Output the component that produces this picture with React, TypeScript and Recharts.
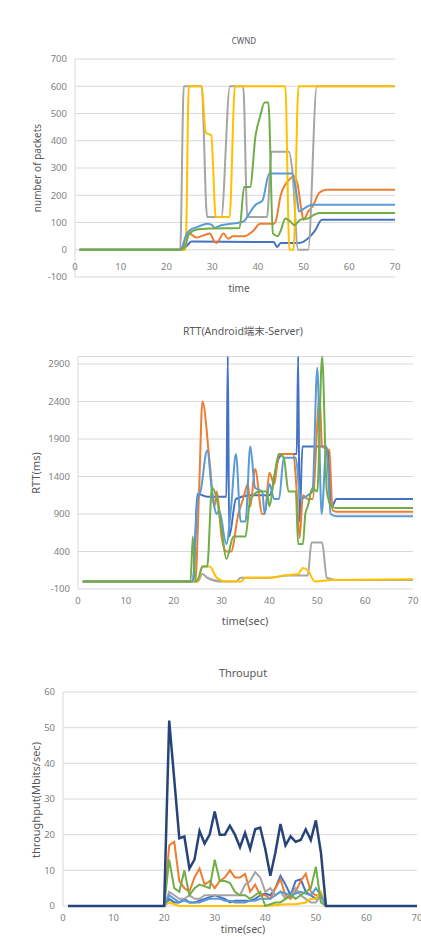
import { CartesianGrid, Line, LineChart, XAxis, YAxis } from "recharts";

type Pt = [number, number];

const xTicks = [0, 10, 20, 30, 40, 50, 60, 70];

// CWND (number of packets)
const cwndTicks = [-100, 0, 100, 200, 300, 400, 500, 600, 700];
const cwndBlue: Pt[] = [[1, 0], [23.5, 0], [24.5, 15], [25.5, 30], [43.5, 28], [44.2, 10], [45, 25], [49, 25], [50, 30], [51.5, 50], [52.5, 70], [54, 110], [70, 110]];
const cwndOrange: Pt[] = [[1, 0], [23, 0], [24.5, 40], [25, 60], [26.5, 45], [28.5, 55], [29.5, 60], [30.5, 30], [31, 25], [32.5, 60], [33.5, 40], [34.5, 50], [37, 50], [39, 70], [40.5, 95], [43.5, 95], [44, 110], [45, 200], [47, 260], [48, 270], [48.7, 240], [49.5, 150], [50, 110], [51, 140], [52, 160], [53.5, 210], [55, 220], [70, 220]];
const cwndGray: Pt[] = [[1, 0], [23, 0], [23.8, 600], [27.7, 600], [28.9, 120], [32, 120], [33.9, 600], [36.8, 600], [37.7, 120], [42, 120], [43, 360], [46.8, 360], [47.6, 280], [48.8, 0], [51, 0], [52.9, 600], [70, 600]];
const cwndYellow: Pt[] = [[1, 0], [24.2, 0], [24.9, 600], [27.7, 600], [28.6, 430], [29.8, 420], [30.8, 120], [33.8, 120], [35, 600], [46, 600], [46.9, 0], [47.8, 0], [48.9, 600], [70, 600]];
const cwndLightBlue: Pt[] = [[1, 0], [23, 0], [24.5, 60], [25, 70], [27, 85], [29, 95], [30, 90], [30.5, 80], [32, 90], [34, 95], [36, 100], [37, 105], [38, 130], [39.5, 165], [41, 180], [42.5, 280], [47.5, 280], [48.5, 200], [49, 140], [50, 150], [51, 160], [52, 165], [70, 165]];
const cwndGreen: Pt[] = [[1, 0], [23, 0], [24, 10], [25, 60], [27, 75], [30, 78], [36, 80], [37, 230], [38.3, 230], [39.5, 420], [40.5, 490], [41.5, 540], [42.3, 540], [43.3, 60], [44.3, 50], [45, 70], [46, 115], [47, 105], [48, 90], [49.3, 110], [51, 115], [52.5, 130], [53.5, 135], [70, 135]];

// RTT (ms)
const rttTicks = [-100, 400, 900, 1400, 1900, 2400, 2900];
const rttBlue: Pt[] = [[1, 0], [24, 0], [25, 1170], [26, 1150], [27, 1130], [31, 1130], [31.3, 3000], [31.6, 600], [33, 1100], [36, 1150], [40, 1150], [42, 1650], [43, 1700], [45.7, 1700], [46, 3000], [46.3, 800], [46.9, 1800], [51.5, 1800], [52.2, 1750], [53, 1000], [54, 1100], [70, 1100]];
const rttOrange: Pt[] = [[1, 0], [24.5, 0], [25.3, 1200], [26, 2400], [27.5, 1600], [28.5, 1000], [29, 1200], [30, 600], [31, 400], [32, 400], [33.5, 900], [34.5, 1100], [35.5, 1300], [36, 1000], [37, 1500], [38.5, 900], [39, 900], [40, 1450], [41, 1300], [42, 1700], [45, 1700], [45.7, 1200], [46.3, 580], [47, 1150], [48, 1100], [49, 1100], [50.5, 2450], [51, 1800], [52.5, 1750], [53.2, 950], [54, 930], [70, 930]];
const rttGray: Pt[] = [[1, 0], [25, 0], [26, 100], [27, 50], [30, 0], [33, 0], [34, 50], [40, 50], [44, 80], [48, 80], [48.8, 520], [51, 520], [52, 50], [54, 20], [70, 20]];
const rttYellow: Pt[] = [[1, 0], [25, 0], [26, 200], [27.5, 200], [29, 50], [31, 0], [34, 0], [35, 50], [40, 50], [43, 80], [46, 100], [47, 180], [48, 150], [49.5, 0], [53, 20], [70, 30]];
const rttLightBlue: Pt[] = [[1, 0], [24, 0], [25, 1100], [25.6, 1200], [27, 1750], [28, 1200], [29, 900], [29.5, 950], [31, 500], [32, 1000], [33, 1700], [34, 800], [35, 800], [36, 1800], [37, 1250], [38.5, 1200], [39, 900], [40, 1300], [41, 1100], [42, 1100], [43, 1650], [45.5, 1650], [46.5, 1100], [48, 1150], [49, 1200], [50, 2850], [50.9, 900], [51.9, 1800], [52.8, 900], [54, 870], [70, 870]];
const rttGreen: Pt[] = [[1, 0], [23.5, 0], [24, 600], [24.5, 0], [25.2, 50], [26, 200], [27, 200], [28, 1250], [29, 1100], [30, 700], [31, 300], [32.5, 600], [35, 600], [36, 1100], [38, 1200], [39.5, 1200], [40, 1000], [41, 1400], [42, 1700], [43, 1650], [44, 1200], [45.5, 1200], [46, 500], [47, 500], [47.5, 900], [48, 1000], [49, 1250], [50, 1200], [51, 3000], [52, 1200], [53, 1000], [54, 980], [70, 980]];

// Throughput (Mbits/sec)
const thrTicks = [0, 10, 20, 30, 40, 50, 60];
const thrBlue: Pt[] = [[1, 0], [20, 0], [21, 2], [22, 1], [23, 1], [24, 2], [25, 1], [26, 1], [27, 1.5], [28, 2], [29, 2.5], [30, 3], [31, 2.5], [32, 2], [33, 1], [34, 1.5], [35, 1.5], [36, 1.5], [37, 1.5], [38, 2], [39, 3], [40, 3.5], [41, 3], [42, 5], [43, 8.5], [44, 6], [45, 3], [46, 7], [47, 7.5], [48, 4], [49, 3], [50, 2], [51, 3], [52, 0], [70, 0]];
const thrOrange: Pt[] = [[1, 0], [20, 0], [21, 17], [22, 18], [23, 7], [24, 5], [25, 4], [26, 8], [27, 10.5], [28, 6], [29, 7], [30, 5], [31, 7], [32, 8], [33, 10], [34, 8], [35, 8], [36, 9], [37, 4], [38, 6], [39, 3], [40, 3], [41, 2], [42, 5], [43, 7.5], [44, 3], [45, 2], [46, 4], [47, 7], [48, 9], [49, 4], [50, 3], [51, 3], [52, 0], [70, 0]];
const thrGray: Pt[] = [[1, 0], [20, 0], [21, 4], [22, 3], [23, 2], [24, 2], [25, 3], [26, 2], [27, 2], [28, 3], [29, 3], [30, 3], [31, 3], [32, 3], [33, 3], [34, 3], [35, 3], [36, 6], [37, 7], [38, 9.5], [39, 8], [40, 4], [41, 5], [42, 3], [43, 4], [44, 2], [45, 3], [46, 5], [47, 3], [48, 2], [49, 1], [50, 1], [51, 3], [52, 0], [70, 0]];
const thrYellow: Pt[] = [[1, 0], [20, 0], [21, 1], [22, 0.5], [23, 0], [40, 0], [44, 0.5], [46, 0.5], [48, 1], [49, 2], [50, 2], [51, 4], [52, 0], [70, 0]];
const thrLightBlue: Pt[] = [[1, 0], [20, 0], [21, 3], [22, 2], [23, 1], [24, 1.5], [25, 1], [26, 1], [27, 1], [28, 1.5], [29, 2], [30, 2], [31, 2], [32, 1.5], [33, 1.5], [34, 1], [35, 1], [36, 1], [37, 1.5], [38, 1.5], [39, 2], [40, 2], [41, 2], [42, 3], [43, 4], [44, 3.5], [45, 3], [46, 3.5], [47, 4], [48, 3.5], [49, 3], [50, 5], [51, 3], [52, 0], [70, 0]];
const thrGreen: Pt[] = [[1, 0], [20, 0], [21, 13], [22, 5], [23, 4], [24, 10], [25, 3], [26, 5], [27, 6], [28, 5.5], [29, 5], [30, 13], [31, 7], [32, 7], [33, 6.5], [34, 4], [35, 3], [36, 3], [37, 2], [38, 3], [39, 4], [40, 0], [41, 0.5], [42, 1], [43, 1], [44, 2], [45, 3], [46, 2], [47, 3], [48, 4], [49, 5], [50, 11], [51, 1], [52, 0], [70, 0]];
const thrNavy: Pt[] = [[1, 0], [20, 0], [21, 52], [22, 35.5], [23, 19], [24, 19.5], [25, 10.5], [26, 13], [27, 21], [28, 17.5], [29, 20], [30, 26.5], [31, 20], [32, 20], [33, 22.5], [34, 20], [35, 16.5], [36, 20.5], [37, 16], [38, 21.5], [39, 22], [40, 16], [41, 8.5], [42, 15], [43, 23], [44, 17], [45, 19.5], [46, 18], [47, 18.5], [48, 21.5], [49, 18.5], [50, 24], [51, 15], [52, 0], [70, 0]];

const C = {
  blue: "#4472C4",
  orange: "#ED7D31",
  gray: "#A5A5A5",
  yellow: "#FFC000",
  lightBlue: "#5B9BD5",
  green: "#70AD47",
  navy: "#264478",
};

const W = 421;
const FONT = "'Noto Sans', 'Noto Sans CJK JP', sans-serif";
const TICK = "#7f7f7f";

const toData = (a: Pt[]) => a.map(([t, v]) => ({ t, v }));

interface Series {
  pts: Pt[];
  color: string;
  width?: number;
}

interface PanelProps {
  top: number;
  height: number;
  plot: { left: number; right: number; top: number; bottom: number };
  yDomain: [number, number];
  yTicks: number[];
  series: Series[];
  curve: "monotone" | "linear";
  xShift: number;
  fontSize: number;
}

function Panel({ top, height, plot, yDomain, yTicks, series, curve, xShift, fontSize }: PanelProps) {
  const xh = 20;
  const XTick = (p: any) => (
    <text
      x={p.x}
      y={p.y + xShift}
      dy="0.71em"
      textAnchor="middle"
      fill={TICK}
      fontSize={fontSize}
      fontFamily={FONT}
    >
      {p.payload.value}
    </text>
  );
  return (
    <div style={{ position: "absolute", left: 0, top, width: W, height }}>
      <LineChart
        width={W}
        height={height}
        margin={{ top: plot.top - top, right: W - plot.right, bottom: top + height - plot.bottom - xh, left: 0 }}
      >
        <CartesianGrid vertical={false} stroke="#D9D9D9" />
        <XAxis
          type="number"
          dataKey="t"
          domain={[0, 70]}
          ticks={xTicks}
          interval={0}
          height={xh}
          axisLine={false}
          tickLine={false}
          tick={XTick}
        />
        <YAxis
          type="number"
          domain={yDomain}
          ticks={yTicks}
          interval={0}
          width={plot.left}
          axisLine={{ stroke: "#D9D9D9" }}
          tickLine={false}
          tick={{ fill: TICK, fontSize, fontFamily: FONT }}
        />
        {series.map((s, i) => (
          <Line
            key={i}
            data={toData(s.pts)}
            dataKey="v"
            type={curve}
            stroke={s.color}
            strokeWidth={s.width ?? 2}
            dot={false}
            activeDot={false}
            isAnimationActive={false}
          />
        ))}
      </LineChart>
    </div>
  );
}

function Caption({ x, y, size, text, rotate }: { x: number; y: number; size: number; text: string; rotate?: boolean }) {
  return (
    <div
      style={{
        position: "absolute",
        left: x,
        top: y,
        transform: `translate(-50%, -50%)${rotate ? " rotate(-90deg)" : ""}`,
        whiteSpace: "nowrap",
        fontSize: size,
        color: "#595959",
        fontFamily: FONT,
        lineHeight: 1,
      }}
    >
      {text}
    </div>
  );
}

export default function App() {
  return (
    <div
      style={{
        position: "fixed",
        left: 0,
        top: 0,
        width: W,
        height: 937,
        background: "#fff",
        overflow: "hidden",
        fontFamily: FONT,
      }}
    >
      <Panel
        top={0}
        height={300}
        plot={{ left: 75, right: 395, top: 59, bottom: 277 }}
        yDomain={[-100, 700]}
        yTicks={cwndTicks}
        curve="monotone"
        xShift={-22}
        fontSize={9.5}
        series={[
          { pts: cwndBlue, color: C.blue },
          { pts: cwndOrange, color: C.orange },
          { pts: cwndGray, color: C.gray },
          { pts: cwndYellow, color: C.yellow },
          { pts: cwndLightBlue, color: C.lightBlue },
          { pts: cwndGreen, color: C.green },
        ]}
      />
      <Caption x={244} y={41} size={8} text="CWND" />
      <Caption x={37} y={168} size={10} text="number of packets" rotate />
      <Caption x={239} y={288} size={10} text="time" />

      <Panel
        top={310}
        height={300}
        plot={{ left: 78, right: 413, top: 356.5, bottom: 589 }}
        yDomain={[-100, 3000]}
        yTicks={rttTicks}
        curve="monotone"
        xShift={0}
        fontSize={9.5}
        series={[
          { pts: rttBlue, color: C.blue },
          { pts: rttOrange, color: C.orange },
          { pts: rttGray, color: C.gray },
          { pts: rttYellow, color: C.yellow },
          { pts: rttLightBlue, color: C.lightBlue },
          { pts: rttGreen, color: C.green },
        ]}
      />
      <Caption x={243} y={331} size={10.5} text="RTT(Android端末-Server)" />
      <Caption x={35} y={473} size={11} text="RTT(ms)" rotate />
      <Caption x={245} y={620} size={11} text="time(sec)" />

      <Panel
        top={680}
        height={257}
        plot={{ left: 63, right: 417, top: 692, bottom: 906 }}
        yDomain={[0, 60]}
        yTicks={thrTicks}
        curve="linear"
        xShift={0}
        fontSize={9.5}
        series={[
          { pts: thrBlue, color: C.blue },
          { pts: thrOrange, color: C.orange },
          { pts: thrGray, color: C.gray },
          { pts: thrYellow, color: C.yellow },
          { pts: thrLightBlue, color: C.lightBlue },
          { pts: thrGreen, color: C.green },
          { pts: thrNavy, color: C.navy, width: 2.5 },
        ]}
      />
      <Caption x={243} y={672} size={11} text="Throuput" />
      <Caption x={35} y={800} size={11} text="throughput(Mbits/sec)" rotate />
      <Caption x={243} y={929} size={10.5} text="time(sec)" />
    </div>
  );
}
